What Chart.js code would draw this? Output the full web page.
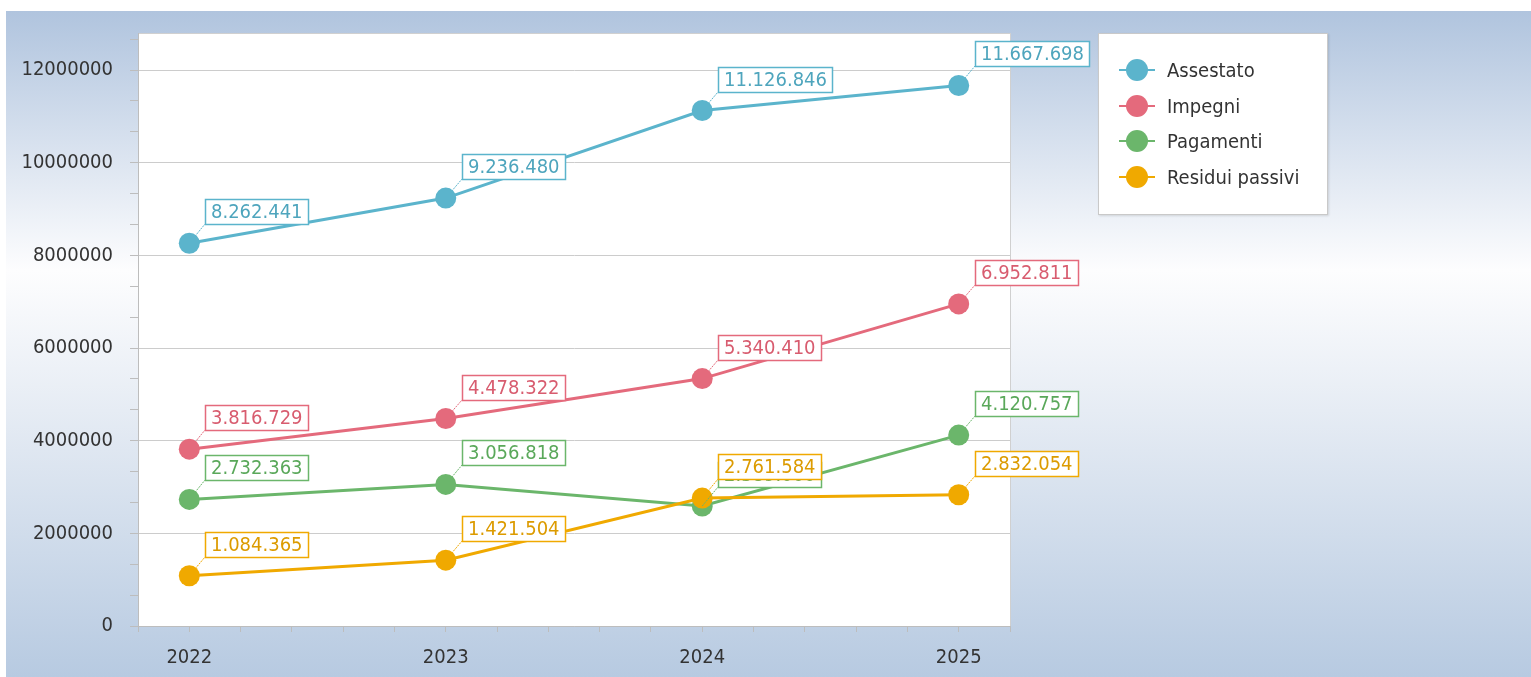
<!DOCTYPE html>
<html>
<head>
<meta charset="utf-8">
<title>Assestato / Impegni / Pagamenti / Residui passivi</title>
<script src="https://cdn.jsdelivr.net/npm/chart.js@4/dist/chart.umd.min.js"></script>
<style>
  html, body { margin: 0; padding: 0; width: 1531px; height: 677px; overflow: hidden; background: #fff; }
  #sfondo {
    position: absolute; left: 6px; top: 11px; right: 0; bottom: 0;
    background: linear-gradient(to bottom, #b0c4de 0%, #fdfdfe 39%, #e6ecf4 60%, #b7cae1 100%);
  }
  #grafico { position: absolute; left: 0; top: 0; }
  #legenda {
    position: absolute; left: 1098px; top: 33px; width: 228px; height: 180px;
    background: #fff; border: 1px solid #c9c9c9; box-shadow: 1px 1px 2px rgba(0,0,0,0.12);
    font-family: "DejaVu Sans Condensed", "DejaVu Sans", sans-serif; font-size: 20px; color: #333;
  }
  .voce { position: absolute; left: 0; height: 36px; display: flex; align-items: center; white-space: nowrap; }
  .segno { position: relative; width: 36px; height: 24px; margin-left: 20px; margin-right: 12px; }
  .segno .linea { position: absolute; left: 0; right: 0; top: 11px; height: 2px; }
  .segno .punto { position: absolute; left: 7px; top: 1px; width: 22px; height: 22px; border-radius: 50%; }
</style>
</head>
<body>
<div id="sfondo"></div>
<canvas id="grafico" width="1531" height="677"></canvas>
<div id="legenda"></div>
<script>
// dati
const anni = [2022, 2023, 2024, 2025];
const assestato = [8262441, 9236480, 11126846, 11667698];
const impegni = [3816729, 4478322, 5340410, 6952811];
const pagamenti = [2732363, 3056818, 2589000, 4120757];
const residui = [1084365, 1421504, 2761584, 2832054];

const nomiSerie = ["Assestato", "Impegni", "Pagamenti", "Residui passivi"];
const coloriSerie = ["#5bb4cc", "#e46a7c", "#6bb66b", "#f0a900"];
const coloriTesto = ["#4ea5bd", "#d85c6f", "#5aa85a", "#dc9b00"];
const valoriSerie = [assestato, impegni, pagamenti, residui];

const tickY = [0, 2000000, 4000000, 6000000, 8000000, 10000000, 12000000];
const tickX = anni;

const FONT = '"DejaVu Sans Condensed", "DejaVu Sans", sans-serif';

function formatta(n) {
  return String(Math.round(n)).replace(/\B(?=(\d{3})+(?!\d))/g, ".");
}

// legenda html
const legenda = document.getElementById("legenda");
nomiSerie.forEach((nome, i) => {
  const voce = document.createElement("div");
  voce.className = "voce";
  voce.style.top = (18 + i * 35.6) + "px";
  voce.innerHTML =
    '<span class="segno"><span class="linea" style="background:' + coloriSerie[i] + '"></span>' +
    '<span class="punto" style="background:' + coloriSerie[i] + '"></span></span>' +
    '<span>' + nome + '</span>';
  legenda.appendChild(voce);
});

// sfondo bianco dell'area del grafico
const areaBianca = {
  id: "areaBianca",
  beforeDraw(chart) {
    const { ctx, chartArea: a } = chart;
    ctx.save();
    ctx.fillStyle = "#fff";
    ctx.fillRect(a.left, a.top, a.right - a.left, a.bottom - a.top);
    ctx.strokeStyle = "#d0d0d0";
    ctx.lineWidth = 1;
    ctx.strokeRect(a.left + 0.5, a.top + 0.5, a.right - a.left, a.bottom - a.top);
    ctx.restore();
  },
};

// etichette dei valori con riquadro e linea di richiamo
const etichettePunti = {
  id: "etichettePunti",
  afterDatasetsDraw(chart) {
    const ctx = chart.ctx;
    ctx.save();
    ctx.font = "20px " + FONT;
    ctx.textBaseline = "middle";
    chart.data.datasets.forEach((ds, i) => {
      const meta = chart.getDatasetMeta(i);
      meta.data.forEach((pt, j) => {
        const testo = formatta(ds.data[j].y);
        const w = Math.round(ctx.measureText(testo).width) + 11;
        const h = 25;
        const bx = Math.round(pt.x + 16);
        const by = Math.round(pt.y - 19 - h);
        ctx.strokeStyle = ds.borderColor;
        ctx.lineWidth = 1;
        ctx.setLineDash([2, 1]);
        ctx.beginPath();
        ctx.moveTo(pt.x, pt.y);
        ctx.lineTo(bx, by + h);
        ctx.stroke();
        ctx.setLineDash([]);
        ctx.fillStyle = "#fff";
        ctx.fillRect(bx, by, w, h);
        ctx.lineWidth = 1.5;
        ctx.strokeRect(bx + 0.5, by + 0.5, w, h);
        ctx.fillStyle = coloriTesto[i];
        ctx.fillText(testo, bx + 6, by + h / 2 + 1);
      });
    });
    ctx.restore();
  },
};

// tacche principali + tacche secondarie (tre per intervallo sull'asse y, cinque sull'asse x)
function tacche(principali, passi, min, max) {
  const out = [];
  const passo = (principali[1] - principali[0]) / passi;
  for (let k = -passi; k <= (principali.length + 1) * passi; k++) {
    const v = principali[0] + k * passo;
    if (v >= min - 1e-9 && v <= max + 1e-9) out.push({ value: v, major: k % passi === 0 });
  }
  return out;
}

const isMajorY = (v) => tickY.includes(Math.round(v));
const isMajorX = (v) => tickX.includes(Math.round(v * 1000) / 1000);

const ctx = document.getElementById("grafico").getContext("2d");
const chart = new Chart(ctx, {
  type: "line",
  data: {
    datasets: nomiSerie.map((nome, i) => ({
      label: nome,
      data: anni.map((a, j) => ({ x: a, y: valoriSerie[i][j] })),
      borderColor: coloriSerie[i],
      backgroundColor: coloriSerie[i],
      borderWidth: 3,
      pointRadius: 10.5,
      pointBorderWidth: 0,
      pointBackgroundColor: coloriSerie[i],
      tension: 0,
      order: nomiSerie.length - i,
    })),
  },
  options: {
    responsive: false,
    animation: false,
    devicePixelRatio: 1,
    layout: { padding: { left: 0, top: 33, right: 521, bottom: 0 } },
    plugins: {
      legend: { display: false },
      tooltip: { enabled: false },
    },
    scales: {
      x: {
        type: "linear",
        min: 2021.8,
        max: 2025.2,
        afterBuildTicks(scale) { scale.ticks = tacche(tickX, 5, scale.min, scale.max); },
        afterFit(scale) { scale.height = 51; },
        border: { color: "#bdbdbd" },
        grid: { drawOnChartArea: false, color: "#bdbdbd", tickLength: 6 },
        ticks: {
          autoSkip: false,
          maxRotation: 0,
          padding: 14,
          color: "#333",
          font: { family: FONT, size: 20 },
          callback: (v) => (isMajorX(v) ? String(Math.round(v)) : ""),
        },
      },
      y: {
        min: 0,
        max: 12800000,
        afterBuildTicks(scale) { scale.ticks = tacche(tickY, 3, scale.min, scale.max); },
        afterFit(scale) { scale.width = 138; },
        border: { color: "#bdbdbd" },
        grid: {
          color: (c) => (c.tick && isMajorY(c.tick.value) ? "#cccccc" : "rgba(0,0,0,0)"),
          tickColor: "#bdbdbd",
          tickLength: 8,
        },
        ticks: {
          autoSkip: false,
          padding: 17,
          color: "#333",
          font: { family: FONT, size: 20 },
          callback: (v) => (isMajorY(v) ? String(Math.round(v)) : ""),
        },
      },
    },
  },
  plugins: [areaBianca, etichettePunti],
});
</script>
</body>
</html>
